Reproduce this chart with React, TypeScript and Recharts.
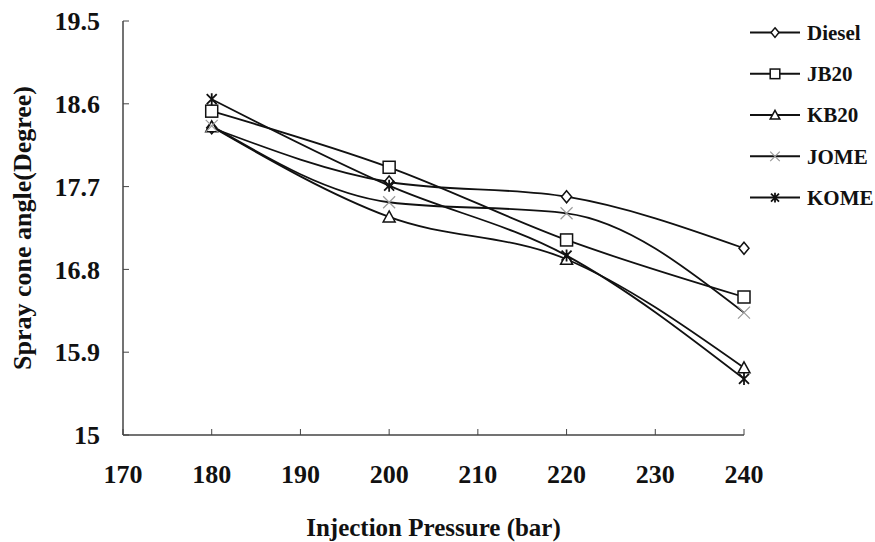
import React from 'react';
import { LineChart, Line, XAxis, YAxis, Legend } from 'recharts';

// Injection pressure (bar) and spray cone angle (degree) for each fuel
const pressures = [180, 200, 220, 240];
const diesel = [18.34, 17.75, 17.59, 17.03];
const jb20 = [18.52, 17.91, 17.12, 16.5];
const kb20 = [18.35, 17.37, 16.91, 15.73];
const jome = [18.36, 17.53, 17.41, 16.33];
const kome = [18.65, 17.71, 16.95, 15.61];

const seriesNames = ['Diesel', 'JB20', 'KB20', 'JOME', 'KOME'];
const xTicks = [170, 180, 190, 200, 210, 220, 230, 240];
const yTicks = [15, 15.9, 16.8, 17.7, 18.6, 19.5];

const data = pressures.map((p, i) => ({
  pressure: p,
  Diesel: diesel[i],
  JB20: jb20[i],
  KB20: kb20[i],
  JOME: jome[i],
  KOME: kome[i],
}));

const FONT = '"Liberation Serif", "Times New Roman", serif';
const INK = '#111';

// marker shapes, drawn around (cx, cy)
const marker = (name: string, cx: number, cy: number, s = 1) => {
  switch (name) {
    case 'Diesel':
      return (
        <polygon
          points={`${cx},${cy - 6 * s} ${cx + 5 * s},${cy} ${cx},${cy + 6 * s} ${cx - 5 * s},${cy}`}
          fill="#fff" stroke={INK} strokeWidth={1.5}
        />
      );
    case 'JB20':
      return <rect x={cx - 6 * s} y={cy - 6 * s} width={12 * s} height={12 * s} fill="#fff" stroke={INK} strokeWidth={1.5} />;
    case 'KB20':
      return (
        <polygon
          points={`${cx},${cy - 6 * s} ${cx + 6 * s},${cy + 5 * s} ${cx - 6 * s},${cy + 5 * s}`}
          fill="#fff" stroke={INK} strokeWidth={1.5}
        />
      );
    case 'JOME':
      return (
        <path
          d={`M${cx - 6 * s},${cy - 6 * s}L${cx + 6 * s},${cy + 6 * s}M${cx + 6 * s},${cy - 6 * s}L${cx - 6 * s},${cy + 6 * s}`}
          stroke="#9a9a9a" strokeWidth={1.2} fill="none"
        />
      );
    default:
      return (
        <path
          d={`M${cx - 5 * s},${cy - 5 * s}L${cx + 5 * s},${cy + 5 * s}M${cx + 5 * s},${cy - 5 * s}L${cx - 5 * s},${cy + 5 * s}M${cx},${cy - 6 * s}L${cx},${cy + 6 * s}`}
          stroke={INK} strokeWidth={1.8} fill="none"
        />
      );
  }
};

const dotFor = (name: string) => (p: any) => (
  <g key={`${name}-${p.index}`}>{marker(name, p.cx, p.cy)}</g>
);

// legend keeps the series order instead of sorting by name
const renderLegend = () => (
  <svg width={135} height={seriesNames.length * 41.25}>
    {seriesNames.map((name, i) => {
      const y = 20.6 + i * 41.25;
      return (
        <g key={name}>
          <line x1={10} x2={60} y1={y} y2={y} stroke={INK} strokeWidth={2} />
          {marker(name, 35, y, 0.8)}
          <text x={67} y={y} dy="0.35em" fontFamily={FONT} fontWeight="bold" fontSize={21} fill={INK}>
            {name}
          </text>
        </g>
      );
    })}
  </svg>
);

const YTitle = ({ viewBox }: any) => {
  const cx = viewBox.x + 22;
  const cy = viewBox.y + viewBox.height / 2;
  return (
    <text
      x={cx} y={cy} transform={`rotate(-90 ${cx} ${cy})`}
      textAnchor="middle" dominantBaseline="central"
      fontFamily={FONT} fontWeight="bold" fontSize={26} fill={INK}
    >
      Spray cone angle(Degree)
    </text>
  );
};

const XTitle = ({ viewBox }: any) => {
  const cx = viewBox.x + viewBox.width / 2;
  return (
    <text x={cx} y={viewBox.y + 101} textAnchor="middle" fontFamily={FONT} fontWeight="bold" fontSize={25} fill={INK}>
      Injection Pressure (bar)
    </text>
  );
};

const tickStyle = { fontFamily: FONT, fontWeight: 'bold', fontSize: 26, fill: INK };

export default function App() {
  return (
    <div style={{ position: 'absolute', left: 0, top: 0, background: '#fff' }}>
      <LineChart width={875} height={542} data={data} margin={{ top: 21, right: 131, bottom: 0, left: 0 }}>
        <XAxis
          dataKey="pressure" type="number" domain={[170, 240]} ticks={xTicks}
          height={107} axisLine={{ stroke: '#444', strokeWidth: 1.5 }} tickLine={{ stroke: '#444' }}
          tickSize={-6} tickMargin={36} tick={tickStyle} label={<XTitle />}
        />
        <YAxis
          type="number" domain={[15, 19.5]} ticks={yTicks} width={123}
          axisLine={{ stroke: '#444', strokeWidth: 1.5 }} tickLine={{ stroke: '#444' }}
          tickSize={-6} tickMargin={29} tick={tickStyle} label={<YTitle />}
        />
        <Legend
          layout="vertical" align="center" verticalAlign="middle"
          content={renderLegend}
          wrapperStyle={{ left: 740, top: 12, width: 135 }}
        />
        {seriesNames.map((name) => (
          <Line
            key={name} dataKey={name} name={name} type="monotone"
            stroke={INK} strokeWidth={1.8} dot={dotFor(name)}
            isAnimationActive={false}
          />
        ))}
      </LineChart>
    </div>
  );
}
